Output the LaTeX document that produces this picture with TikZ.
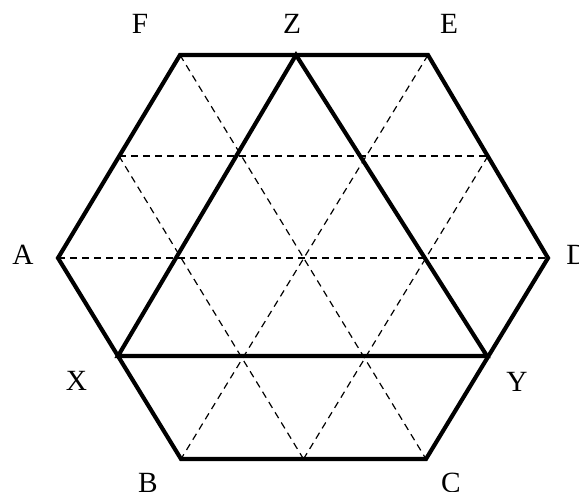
\documentclass[tikz,border=0pt]{standalone}
\usepackage{fontspec}
\setmainfont{Liberation Serif}
\begin{document}
\begin{tikzpicture}[x=0.75pt,y=-0.75pt,
  solidline/.style={line width=3.1pt,line join=miter},
  gridline/.style={line width=0.9pt,dash pattern=on 5.2pt off 3.8pt},
  lab/.style={font=\fontsize{22}{22}\selectfont,inner sep=0pt}]
\useasboundingbox (0,0) rectangle (579,492);
% hexagon vertices
\coordinate (A) at (58,258);
\coordinate (F) at (180,55);
\coordinate (E) at (428,55);
\coordinate (D) at (548,258);
\coordinate (C) at (426,459);
\coordinate (B) at (181,459);
% side midpoints
\coordinate (AFm) at (119,156);
\coordinate (EDm) at (488,156);
\coordinate (BCm) at (303.5,459);
% triangle
\coordinate (X) at (118,356);
\coordinate (Y) at (487,356);
\coordinate (Z) at (296,55);
% dashed grid
\draw[gridline] (AFm) -- (EDm);
\draw[gridline] (A) -- (D);
\draw[gridline] (F) -- (C);
\draw[gridline] (E) -- (B);
\draw[gridline] (AFm) -- (BCm);
\draw[gridline] (EDm) -- (BCm);
% solid shapes
\draw[solidline] (A) -- (F) -- (E) -- (D) -- (C) -- (B) -- cycle;
\draw[solidline] (X) -- (Y) -- (Z) -- cycle;
% labels
\node[lab] (lF) at (140,24) {F};
\node[lab] (lZ) at (292,24) {Z};
\node[lab] (lE) at (449,24) {E};
\node[lab] (lA) at (23,255) {A};
\node[lab,anchor=west] (lD) at (566,255) {D};
\node[lab] (lX) at (76.5,381) {X};
\node[lab] (lY) at (517,382) {Y};
\node[lab,anchor=north] (lB) at (148,473) {B};
\node[lab,anchor=north] (lC) at (451,473) {C};
\end{tikzpicture}
\end{document}
